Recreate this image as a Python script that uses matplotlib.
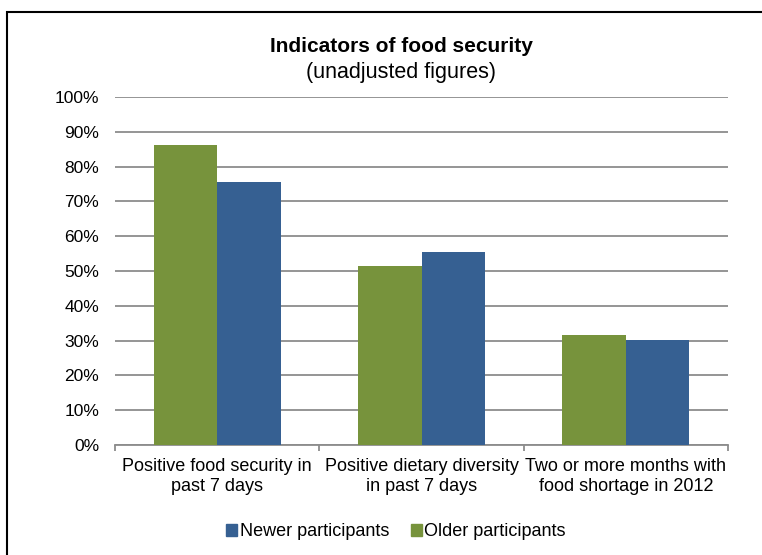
import matplotlib
matplotlib.use("Agg")
import matplotlib.pyplot as plt
import numpy as np
from matplotlib.patches import Rectangle, Patch

plt.rcParams['font.family'] = ['Liberation Sans', 'DejaVu Sans']

categories = ["Positive food security in\npast 7 days",
              "Positive dietary diversity\nin past 7 days",
              "Two or more months with\nfood shortage in 2012"]
older = [86.2, 51.3, 31.6]
newer = [75.7, 55.6, 30.1]
yticks = list(range(0, 101, 10))

green = "#77933C"
blue = "#366092"
grid = "#8C8C8C"

fig = plt.figure(figsize=(7.62, 5.55), dpi=100)
ax = fig.add_axes([115/762, 1 - 445/555, 613/762, 348/555])

x = np.arange(len(categories))
w = 0.31
ax.bar(x - w/2, older, w, color=green, zorder=3)
ax.bar(x + w/2, newer, w, color=blue, zorder=3)

ax.set_xlim(-0.5, len(categories) - 0.5)
ax.set_ylim(0, 100)
ax.set_yticks(yticks)
ax.set_yticklabels([f"{t}%" for t in yticks], fontsize=12.5)
ax.tick_params(axis='y', length=0, pad=11.5)
ax.yaxis.grid(True, color=grid, lw=1.3, zorder=0)

# category labels sit between the boundary ticks
ax.set_xticks(x)
ax.set_xticklabels(categories, fontsize=13, linespacing=1.2)
ax.tick_params(axis='x', length=0, pad=9.5)
ax.set_xticks(np.arange(len(categories) + 1) - 0.5, minor=True)
ax.tick_params(axis='x', which='minor', length=4, color=grid, width=1.3)

for s in ['left', 'right', 'top']:
    ax.spines[s].set_visible(False)
ax.spines['bottom'].set_color(grid)
ax.spines['bottom'].set_linewidth(1.3)

fig.text(401/762, 1 - 46.5/555, "Indicators of food security", ha='center', va='center',
         fontsize=15, fontweight='bold')
fig.text(401/762, 1 - 72.5/555, "(unadjusted figures)", ha='center', va='center', fontsize=15.5)

handles = [Patch(color=blue, label="Newer participants"),
           Patch(color=green, label="Older participants")]
fig.legend(handles=handles, loc='center', bbox_to_anchor=(396/762, 1 - 532/555), ncol=2,
           frameon=False, fontsize=13, handlelength=0.6, handleheight=0.6,
           handletextpad=0.15, columnspacing=1.2)

fig.patches.append(Rectangle((7/762, -0.1), 1.2, 1.1 - 12/555, transform=fig.transFigure,
                             fill=False, edgecolor='black', lw=1.5))

fig.savefig("out.png", dpi=100)
